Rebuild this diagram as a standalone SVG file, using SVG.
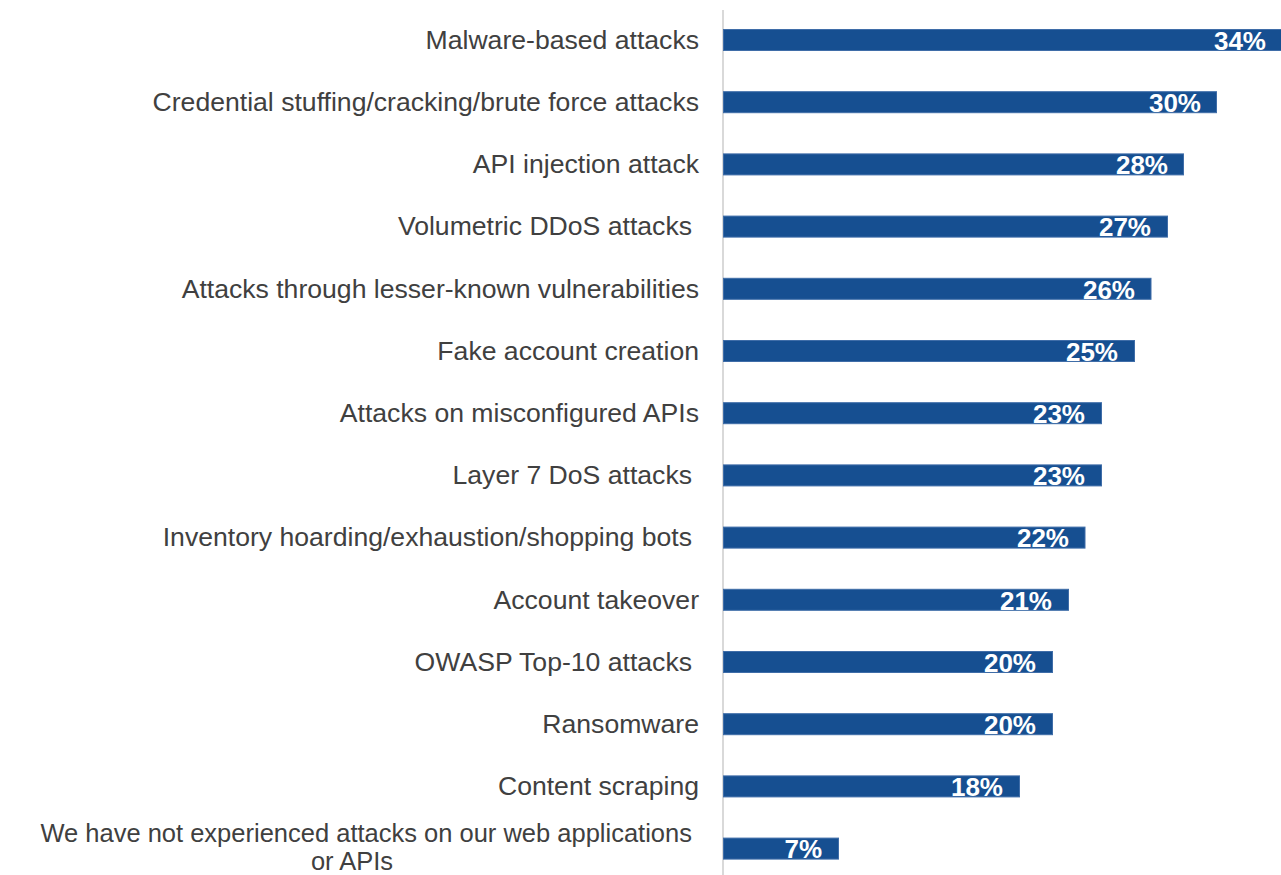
<svg xmlns="http://www.w3.org/2000/svg" width="1281" height="875" viewBox="0 0 1281 875">
<style>
.lbl{font-family:"Liberation Sans",Arial,sans-serif;font-size:26.6px;fill:#404040;text-anchor:end}
.lbl2{font-family:"Liberation Sans",Arial,sans-serif;font-size:25.5px;fill:#404040;text-anchor:end}
.bar{fill:#164F91;stroke:#3F6DA8;stroke-width:1}
.val{font-family:"Liberation Sans",Arial,sans-serif;font-size:26px;font-weight:bold;fill:#ffffff;text-anchor:end}
</style>
<rect width="1281" height="875" fill="#ffffff"/>
<g id="axis"><line x1="723" y1="10" x2="723" y2="875" stroke="#D9D9D9" stroke-width="2"/></g>
<g id="n1"><text class="lbl" x="699" y="48.7">Malware-based attacks</text><rect class="bar" x="723.5" y="29.5" width="559" height="21"/><text class="val" x="1266" y="49.8">34%</text></g>
<g id="n2"><text class="lbl" x="699" y="110.9">Credential stuffing/cracking/brute force attacks</text><rect class="bar" x="723.5" y="91.7" width="493" height="21"/><text class="val" x="1201" y="112">30%</text></g>
<g id="n3"><text class="lbl" x="699" y="173.1">API injection attack</text><rect class="bar" x="723.5" y="153.9" width="460" height="21"/><text class="val" x="1168" y="174.2">28%</text></g>
<g id="n4"><text class="lbl" x="692" y="235.3">Volumetric DDoS attacks</text><rect class="bar" x="723.5" y="216.1" width="444" height="21"/><text class="val" x="1151" y="236.4">27%</text></g>
<g id="n5"><text class="lbl" x="699" y="297.5">Attacks through lesser-known vulnerabilities</text><rect class="bar" x="723.5" y="278.3" width="427.5" height="21"/><text class="val" x="1135" y="298.6">26%</text></g>
<g id="n6"><text class="lbl" x="699" y="359.7">Fake account creation</text><rect class="bar" x="723.5" y="340.5" width="411" height="21"/><text class="val" x="1118" y="360.8">25%</text></g>
<g id="n7"><text class="lbl" x="699" y="421.9">Attacks on misconfigured APIs</text><rect class="bar" x="723.5" y="402.7" width="378" height="21"/><text class="val" x="1085" y="423">23%</text></g>
<g id="n8"><text class="lbl" x="692" y="484.1">Layer 7 DoS attacks</text><rect class="bar" x="723.5" y="464.9" width="378" height="21"/><text class="val" x="1085" y="485.2">23%</text></g>
<g id="n9"><text class="lbl" x="692" y="546.3">Inventory hoarding/exhaustion/shopping bots</text><rect class="bar" x="723.5" y="527.1" width="361.5" height="21"/><text class="val" x="1069" y="547.4">22%</text></g>
<g id="n10"><text class="lbl" x="699" y="608.5">Account takeover</text><rect class="bar" x="723.5" y="589.3" width="345" height="21"/><text class="val" x="1052" y="609.6">21%</text></g>
<g id="n11"><text class="lbl" x="692" y="670.7">OWASP Top-10 attacks</text><rect class="bar" x="723.5" y="651.5" width="329" height="21"/><text class="val" x="1036" y="671.8">20%</text></g>
<g id="n12"><text class="lbl" x="699" y="732.9">Ransomware</text><rect class="bar" x="723.5" y="713.7" width="329" height="21"/><text class="val" x="1036" y="734">20%</text></g>
<g id="n13"><text class="lbl" x="699" y="795.1">Content scraping</text><rect class="bar" x="723.5" y="775.9" width="296" height="21"/><text class="val" x="1003" y="796.2">18%</text></g>
<g id="n14"><text class="lbl2" x="692" y="842">We have not experienced attacks on our web applications</text><text class="lbl2" x="352" y="870" style="text-anchor:middle">or APIs</text><rect class="bar" x="723.5" y="838.1" width="115" height="21"/><text class="val" x="822" y="858.4">7%</text></g>
</svg>
